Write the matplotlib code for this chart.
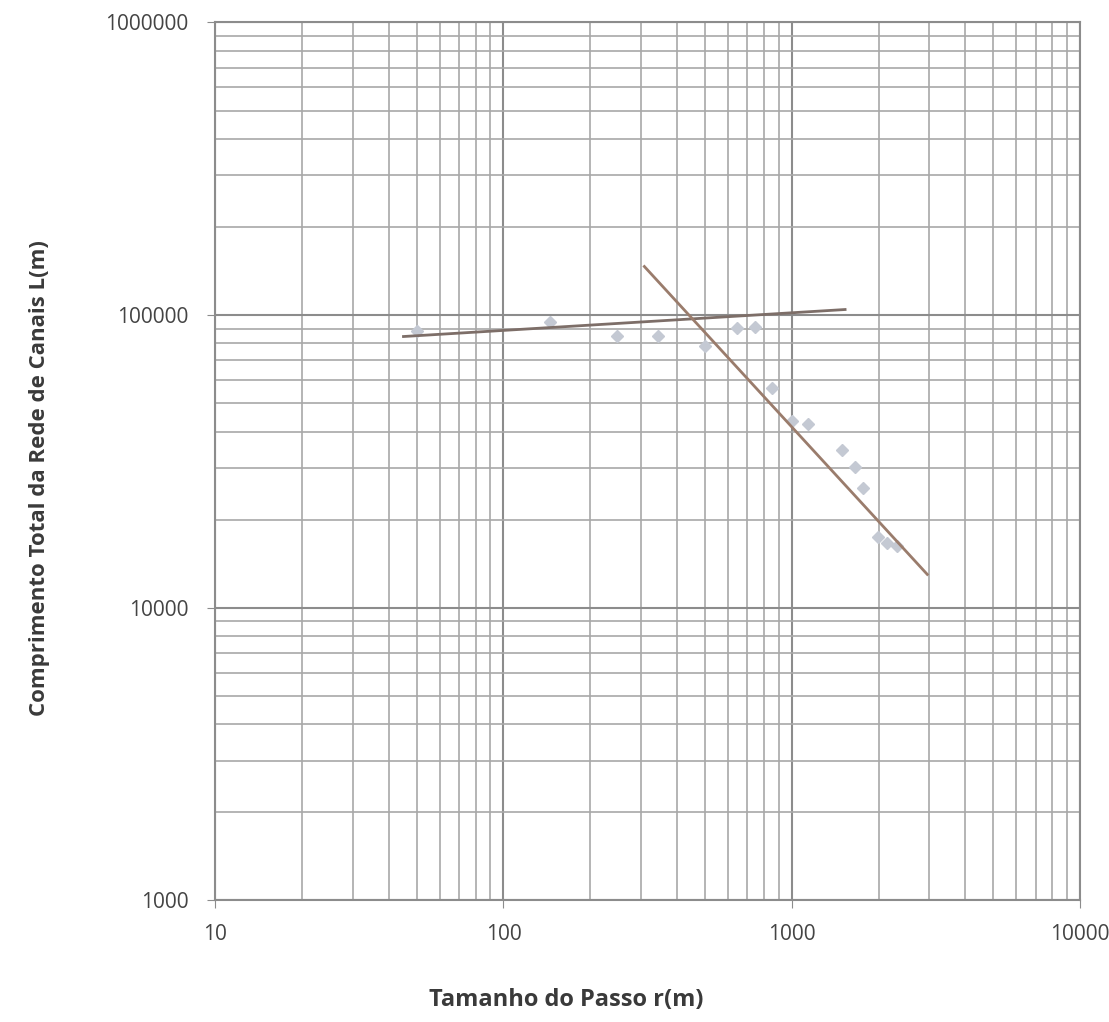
import matplotlib.pyplot as plt
import numpy as np

# passo r (m) e comprimento total L (m)
r = np.array([50, 145, 248, 344, 501, 647, 747, 855, 1003, 1140,
              1496, 1660, 1770, 1994, 2140, 2320])
L = np.array([88000, 94400, 85000, 85000, 78700, 90100, 90800, 56300, 43600, 42300,
              34700, 30200, 25600, 17400, 16700, 16200])

# retas de ajuste (extremos)
fit1_r = [45, 1530]
fit1_L = [84500, 104500]
fit2_r = [308, 2950]
fit2_L = [146600, 13000]

xticks = [10, 100, 1000, 10000]
yticks = [1000, 10000, 100000, 1000000]

plt.rcParams['font.family'] = ['Open Sans', 'DejaVu Sans']

fig = plt.figure(figsize=(11.09, 10.22), dpi=100)
ax = fig.add_axes([0.194, 0.119, 0.780, 0.859])

ax.set_xscale('log')
ax.set_yscale('log')
ax.set_xlim(10, 10000)
ax.set_ylim(1000, 1000000)

ax.grid(True, which='major', color='#8c8c8c', linewidth=1.5)
ax.grid(True, which='minor', color='#a8a8a8', linewidth=1.2)
ax.set_axisbelow(True)

ax.plot(r, L, 'D', color='#c4c9d3', markersize=6.5, zorder=3)
ax.plot(fit1_r, fit1_L, color='#7d6e68', linewidth=2, zorder=4)
ax.plot(fit2_r, fit2_L, color='#9a7c6c', linewidth=2, zorder=4)

ax.set_xticks(xticks)
ax.set_xticklabels([str(v) for v in xticks])
ax.set_yticks(yticks)
ax.set_yticklabels([str(v) for v in yticks])
ax.tick_params(which='major', length=6, color='#8c8c8c', labelsize=15, labelcolor='#444444')
ax.tick_params(axis='x', pad=11)
ax.tick_params(axis='y', pad=13)
ax.tick_params(which='minor', length=0)

for s in ax.spines.values():
    s.set_color('#8c8c8c')
    s.set_linewidth(1.5)

fig.text(0.036, 0.532, 'Comprimento Total da Rede de Canais L(m)', rotation=90,
         ha='center', va='center', fontsize=16, fontweight='bold', color='#3a3a3a')
fig.text(0.511, 0.022, 'Tamanho do Passo r(m)', ha='center', va='center',
         fontsize=17, fontweight='bold', color='#3a3a3a')

fig.savefig('out.png', dpi=100)
